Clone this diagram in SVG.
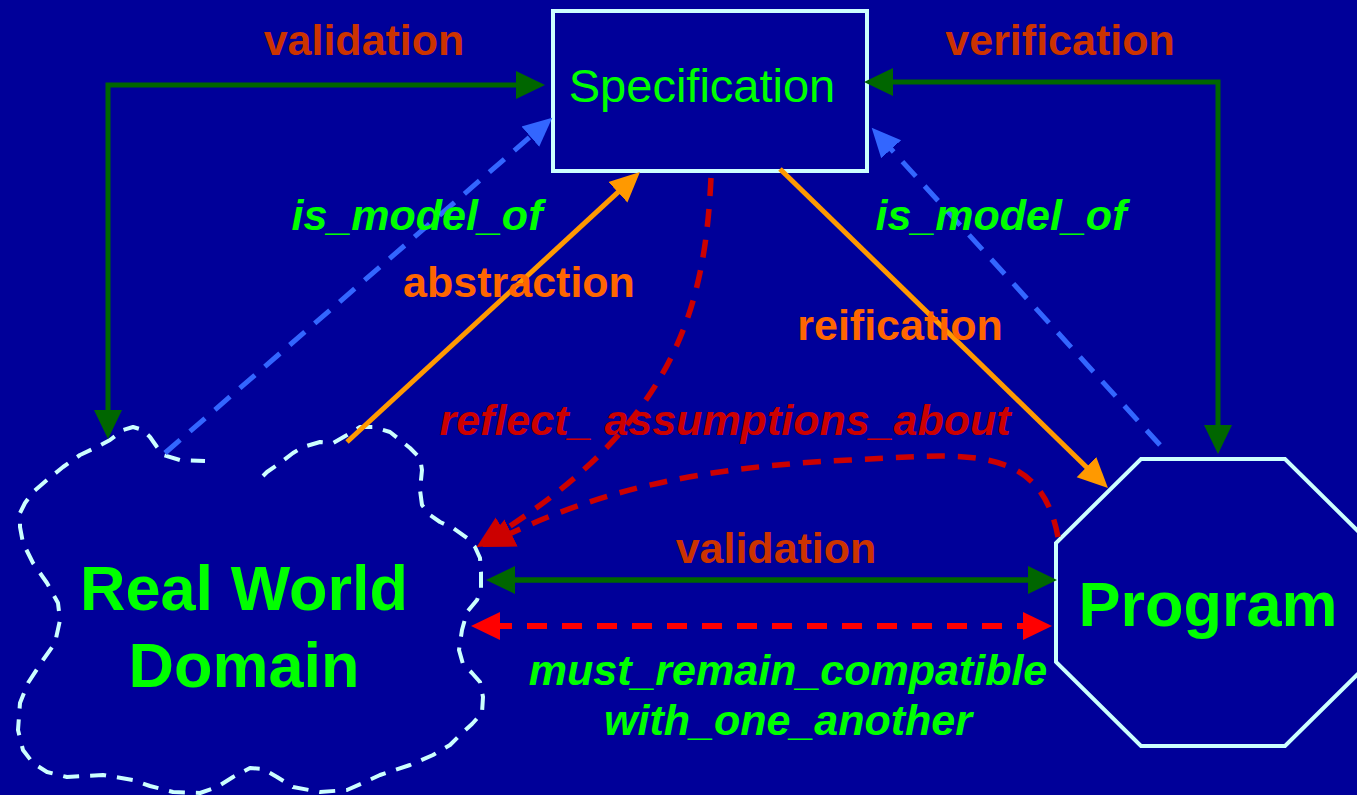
<svg xmlns="http://www.w3.org/2000/svg" width="1357" height="795" viewBox="0 0 1357 795">
<style>
.lbl{font-family:"Liberation Sans",Arial,sans-serif;font-weight:bold;font-size:43px;text-anchor:middle}
.it{font-style:italic}
.grn{fill:#00FF00}
.rust{fill:#CC3300}
.org{fill:#FF6600}
.dred{fill:#CC0000}
.node{fill:none;stroke:#CCFFFF;stroke-width:4}
.big{font-family:"Liberation Sans",Arial,sans-serif;font-weight:bold;font-size:63px;fill:#00FF00;text-anchor:middle}
</style>
<defs>
<marker id="mG" markerUnits="userSpaceOnUse" markerWidth="30" markerHeight="30" viewBox="0 0 30 30" refX="8" refY="15" orient="auto-start-reverse"><path d="M0,1 L29,15 L0,29 z" fill="#006600"/></marker>
<marker id="mB" markerUnits="userSpaceOnUse" markerWidth="30" markerHeight="30" viewBox="0 0 30 30" refX="8" refY="15" orient="auto-start-reverse"><path d="M0,1.5 L29,15 L0,28.5 z" fill="#3366FF"/></marker>
<marker id="mO" markerUnits="userSpaceOnUse" markerWidth="30" markerHeight="30" viewBox="0 0 30 30" refX="8" refY="15" orient="auto-start-reverse"><path d="M0,1 L30,15 L0,29 z" fill="#FF9900"/></marker>
<marker id="mD" markerUnits="userSpaceOnUse" markerWidth="32" markerHeight="32" viewBox="0 0 32 32" refX="9" refY="16" orient="auto-start-reverse"><path d="M0,1 L32,16 L0,31 z" fill="#CC0000"/></marker>
<marker id="mR" markerUnits="userSpaceOnUse" markerWidth="30" markerHeight="30" viewBox="0 0 30 30" refX="8" refY="15" orient="auto-start-reverse"><path d="M0,1 L29,15 L0,29 z" fill="#FF0000"/></marker>
</defs>
<rect width="1357" height="795" fill="#000099"/>

<g id="real-world-domain">
<polyline class="node" stroke-width="3.5" stroke-dasharray="16 11" stroke-linejoin="round" points="263,476 267,472 280,463 293,453 303,447 320,442 333,443 347,435 360,427 373,427 390,432 400,440 410,448 420,458 422,470 420,490 422,505 430,515 440,522 453,528 467,538 475,547 480,558 481,572 481,590 477,600 467,612 462,630 459,650 463,664 472,673 480,682 483,697 482,713 472,724 460,735 450,745 433,755 410,765 380,775 363,783 347,790 320,792 293,787 277,777 263,769 250,768 233,777 217,787 200,793 173,792 150,786 133,780 103,775 67,777 47,772 33,763 23,750 18,730 20,703 28,683 43,660 55,643 60,620 58,603 47,583 33,563 23,543 20,527 20,513 25,503 33,492 47,480 63,467 80,455 97,447 110,440 123,430 133,427 143,430 150,437 157,447 163,455 180,460 205,461"/>
<text class="big" x="244" y="610">Real World</text>
<text class="big" x="244" y="687">Domain</text>
</g>

<g id="specification">
<rect class="node" x="553" y="11" width="314" height="160"/>
<text x="702" y="102" font-family="Liberation Sans, Arial, sans-serif" font-size="47" fill="#00FF00" text-anchor="middle">Specification</text>
</g>

<g id="program">
<polygon class="node" points="1141,459 1285,459 1370,543 1370,662 1285,746 1141,746 1056,662 1056,543"/>
<text class="big" x="1208" y="626">Program</text>
</g>

<g id="connectors" fill="none">
<path d="M108,418 L108,85 L524,85" stroke="#006600" stroke-width="5" marker-start="url(#mG)" marker-end="url(#mG)"/>
<path d="M885,82 L1218,82 L1218,433" stroke="#006600" stroke-width="5" marker-start="url(#mG)" marker-end="url(#mG)"/>
<path d="M165,453 L536.4,131.4" stroke="#3366FF" stroke-width="5" stroke-dasharray="20 13" marker-end="url(#mB)"/>
<path d="M1160,445 L885.8,143.3" stroke="#3366FF" stroke-width="5" stroke-dasharray="20 13" marker-end="url(#mB)"/>
<path d="M347,442 L623.8,186.9" stroke="#FF9900" stroke-width="5" marker-end="url(#mO)"/>
<path d="M780,169 L1092.2,472.7" stroke="#FF9900" stroke-width="5" marker-end="url(#mO)"/>
<path d="M711,178 C705,300 680,420 496,535" stroke="#CC0000" stroke-width="5.5" stroke-dasharray="18 13" marker-end="url(#mD)"/>
<path d="M1058,537 C1040,440 960,455 850,460 C700,467 600,490 503,537" stroke="#CC0000" stroke-width="5.5" stroke-dasharray="18 13" marker-end="url(#mD)"/>
<path d="M507,580 L1036,580" stroke="#006600" stroke-width="5.5" marker-start="url(#mG)" marker-end="url(#mG)"/>
<path d="M492,626 L1031,626" stroke="#FF0000" stroke-width="6" stroke-dasharray="20 15" marker-start="url(#mR)" marker-end="url(#mR)"/>
</g>

<g id="labels">
<text class="lbl rust" x="364" y="55">validation</text>
<text class="lbl rust" x="1060" y="55">verification</text>
<text class="lbl it grn" x="417" y="230">is_model_of</text>
<text class="lbl it grn" x="1001" y="230">is_model_of</text>
<text class="lbl org" x="519" y="297">abstraction</text>
<text class="lbl org" x="900" y="340">reification</text>
<text class="lbl it dred" x="725" y="435">reflect_ assumptions_about</text>
<text class="lbl rust" x="776" y="563">validation</text>
<text class="lbl it grn" x="788" y="685">must_remain_compatible</text>
<text class="lbl it grn" x="788" y="735">with_one_another</text>
</g>
</svg>
